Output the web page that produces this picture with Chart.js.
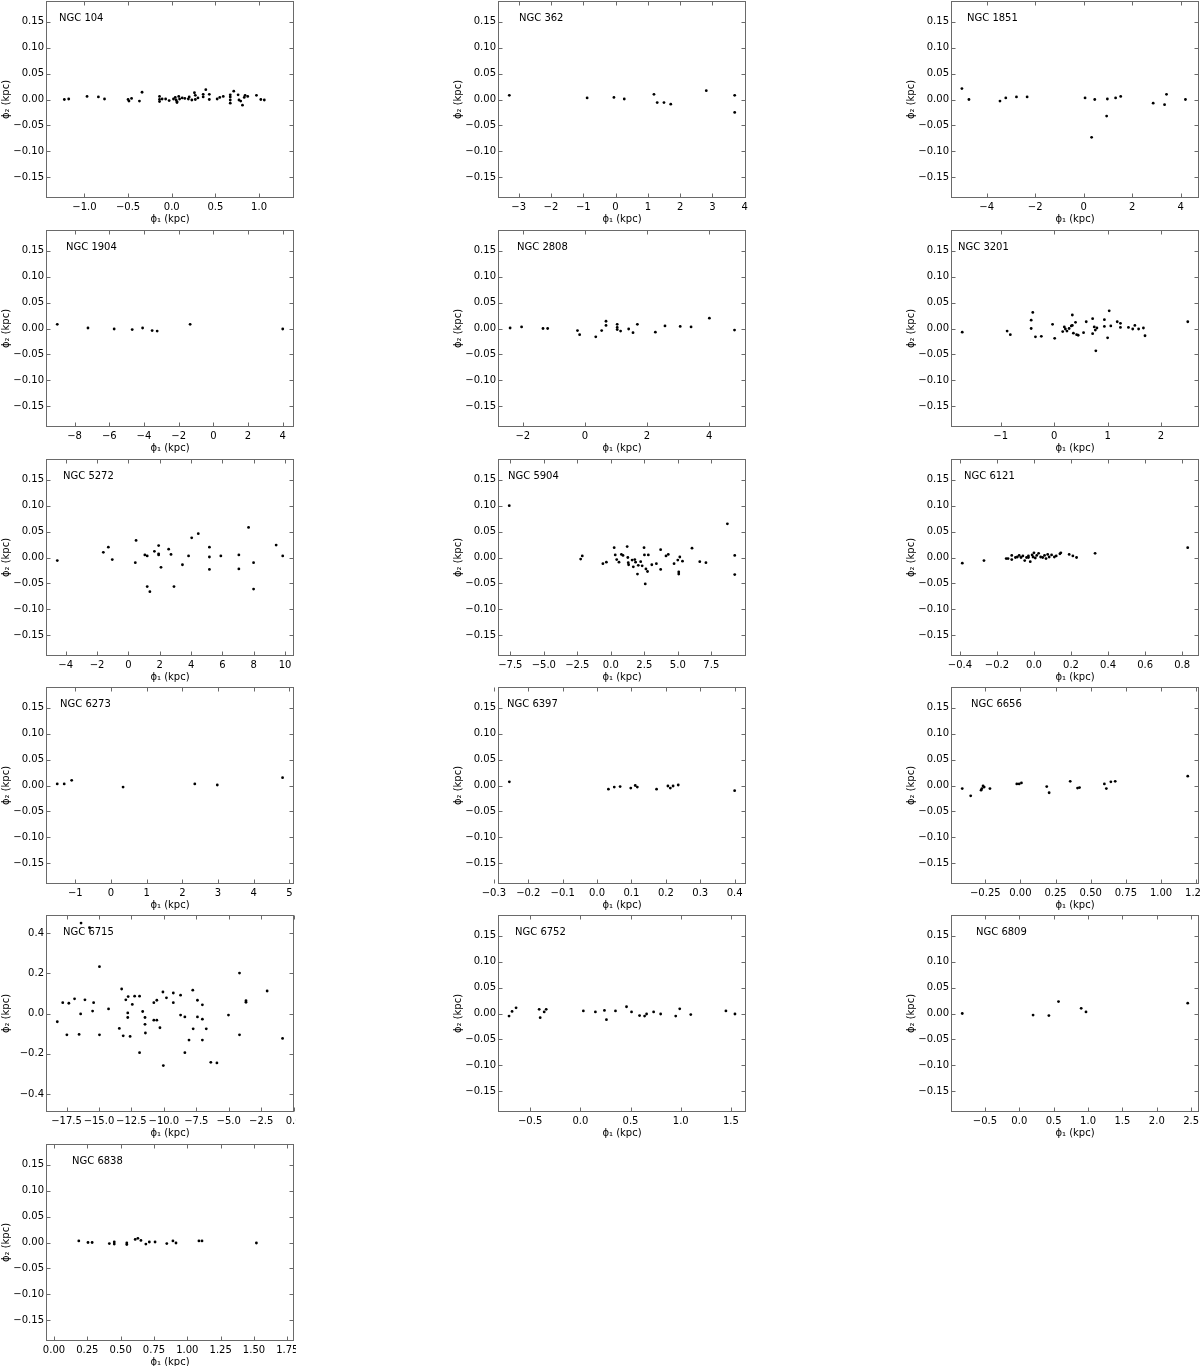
<!DOCTYPE html>
<html>
<head>
<meta charset="utf-8">
<script src="https://cdn.jsdelivr.net/npm/chart.js@4.4.0/dist/chart.umd.min.js"></script>
<style>
  html, body { margin: 0; padding: 0; background: #fff; overflow: hidden; }
  body { width: 1200px; height: 1366px; position: relative; }
</style>
</head>
<body>
<script>
// cluster names, one panel each
const clusterNames = ['NGC 104', 'NGC 362', 'NGC 1851', 'NGC 1904', 'NGC 2808', 'NGC 3201',
  'NGC 5272', 'NGC 5904', 'NGC 6121', 'NGC 6273', 'NGC 6397', 'NGC 6656',
  'NGC 6715', 'NGC 6752', 'NGC 6809', 'NGC 6838'];

// phi1 / phi2 (kpc) per cluster
const phi1_104 = [-1.23,-1.18,-0.97,-0.84,-0.77,-0.50,-0.49,-0.46,-0.37,-0.34,-0.14,-0.14,-0.14,-0.11,-0.07,-0.03,0.02,0.04,0.05,0.06,0.06,0.08,0.09,0.12,0.15,0.19,0.20,0.23,0.26,0.27,0.27,0.30,0.36,0.36,0.39,0.43,0.43,0.52,0.55,0.59,0.67,0.67,0.67,0.67,0.71,0.76,0.77,0.79,0.81,0.83,0.84,0.87,0.97,1.02,1.06];
const phi2_104 = [0.000,0.001,0.006,0.005,0.001,0.000,-0.003,0.002,-0.003,0.014,0.006,0.000,-0.004,0.001,0.001,-0.002,0.001,0.004,-0.001,-0.004,-0.006,0.006,0.001,0.003,0.002,0.001,0.005,-0.001,0.013,0.008,0.000,0.003,0.010,0.005,0.019,0.010,0.000,0.001,0.004,0.006,0.009,0.005,-0.001,-0.007,0.016,0.009,-0.001,-0.003,-0.011,0.004,0.008,0.006,0.008,0.000,-0.001];

const phi1_362 = [-3.29,-0.88,-0.05,0.27,1.19,1.29,1.50,1.71,2.81,3.69,3.69];
const phi2_362 = [0.008,0.003,0.004,0.001,0.010,-0.006,-0.006,-0.009,0.017,0.008,-0.025];

const phi1_1851 = [-5.02,-4.73,-3.45,-3.21,-2.77,-2.33,0.06,0.33,0.46,0.95,0.98,1.32,1.53,2.87,3.34,3.42,4.20];
const phi2_1851 = [0.021,0.000,-0.003,0.003,0.005,0.005,0.003,-0.073,0.000,-0.032,0.001,0.003,0.006,-0.007,-0.010,0.010,0.000];

const phi1_1904 = [-9.00,-7.23,-5.72,-4.68,-4.08,-3.53,-3.24,-1.34,4.00];
const phi2_1904 = [0.008,0.001,-0.001,-0.002,0.001,-0.004,-0.005,0.008,-0.001];

const phi1_2808 = [-2.41,-2.04,-1.35,-1.20,-0.24,-0.17,0.35,0.54,0.68,0.68,1.04,1.04,1.04,1.15,1.41,1.55,1.69,2.27,2.58,3.07,3.42,4.01,4.82];
const phi2_2808 = [0.001,0.003,0.000,0.000,-0.004,-0.012,-0.016,-0.004,0.006,0.014,0.008,0.002,-0.002,-0.005,-0.001,-0.008,0.008,-0.007,0.005,0.004,0.003,0.020,-0.003];

const phi1_3201 = [-1.72,-0.88,-0.82,-0.43,-0.43,-0.40,-0.35,-0.24,-0.03,0.01,0.16,0.19,0.21,0.24,0.28,0.32,0.34,0.34,0.36,0.40,0.42,0.45,0.55,0.60,0.72,0.72,0.75,0.77,0.78,0.80,0.94,0.94,1.00,1.03,1.06,1.18,1.24,1.24,1.39,1.47,1.51,1.58,1.67,1.70,2.50];
const phi2_3201 = [-0.007,-0.005,-0.012,0.016,0.000,0.031,-0.016,-0.015,0.008,-0.019,-0.006,0.003,-0.001,-0.005,0.000,0.005,0.026,0.006,-0.009,0.012,-0.012,-0.013,-0.008,0.013,0.019,-0.010,0.003,-0.003,-0.043,0.001,0.017,0.004,-0.018,0.034,0.005,0.013,0.010,0.002,0.002,-0.001,0.006,-0.001,0.001,-0.014,0.013];

const phi1_5272 = [-4.54,-1.60,-1.28,-1.03,0.44,0.49,1.05,1.20,1.20,1.37,1.66,1.93,1.93,1.93,2.08,2.57,2.72,2.91,3.45,3.84,4.04,4.46,5.17,5.17,5.17,5.90,7.05,7.05,7.67,7.99,7.99,9.43,9.85];
const phi2_5272 = [-0.006,0.010,0.020,-0.004,-0.010,0.033,0.005,0.003,-0.056,-0.066,0.012,0.023,0.007,0.005,-0.019,0.016,0.006,-0.056,-0.014,0.003,0.038,0.046,0.020,0.001,-0.023,0.003,0.005,-0.022,0.058,-0.010,-0.061,0.024,0.003];

const phi1_5904 = [-7.58,-2.25,-2.13,-0.59,-0.33,0.25,0.33,0.44,0.61,0.79,0.91,1.22,1.27,1.30,1.33,1.59,1.68,1.79,1.85,1.99,2.05,2.23,2.34,2.48,2.51,2.62,2.57,2.74,2.80,3.06,3.40,3.72,3.72,4.12,4.29,4.72,5.00,5.07,5.07,5.15,5.35,6.06,6.64,7.10,8.70,9.25,9.25];
const phi2_5904 = [0.100,-0.003,0.003,-0.012,-0.009,0.019,0.005,-0.004,-0.009,0.006,0.004,0.021,0.000,-0.010,-0.014,-0.005,-0.018,-0.004,-0.009,-0.032,-0.015,-0.008,-0.016,0.019,0.005,-0.022,-0.051,-0.027,0.005,-0.014,-0.012,0.015,-0.023,0.003,0.006,-0.012,-0.005,-0.028,-0.032,0.001,-0.007,0.018,-0.008,-0.010,0.065,0.004,-0.033];

const phi1_6121 = [-0.387,-0.27,-0.15,-0.14,-0.12,-0.12,-0.10,-0.09,-0.08,-0.07,-0.06,-0.05,-0.04,-0.03,-0.03,-0.02,-0.01,-0.005,0.0,0.007,0.015,0.025,0.036,0.047,0.057,0.065,0.074,0.082,0.095,0.11,0.12,0.14,0.145,0.19,0.21,0.23,0.33,0.83];
const phi2_6121 = [-0.011,-0.006,-0.002,-0.002,0.004,-0.004,0.000,0.001,0.004,0.000,0.003,-0.006,0.000,0.003,0.000,-0.008,0.005,0.001,0.009,-0.001,0.004,0.008,0.001,0.000,0.004,-0.002,0.006,0.001,0.005,0.001,0.003,0.007,0.009,0.006,0.003,0.000,0.008,0.019];

const phi1_6273 = [-1.505,-1.31,-1.10,0.34,2.35,2.98,4.81];
const phi2_6273 = [0.003,0.003,0.010,-0.003,0.003,0.001,0.015];

const phi1_6397 = [-0.255,0.033,0.050,0.067,0.098,0.111,0.117,0.173,0.206,0.213,0.221,0.236,0.400];
const phi2_6397 = [0.007,-0.007,-0.003,-0.002,-0.005,0.000,-0.003,-0.007,-0.001,-0.005,-0.001,0.001,-0.010];

const phi1_6656 = [-0.414,-0.354,-0.280,-0.274,-0.266,-0.258,-0.217,-0.026,-0.009,0.007,0.187,0.204,0.354,0.406,0.420,0.597,0.611,0.643,0.674,1.19];
const phi2_6656 = [-0.006,-0.020,-0.009,-0.006,-0.001,-0.003,-0.006,0.003,0.003,0.005,-0.002,-0.014,0.008,-0.005,-0.004,0.003,-0.006,0.007,0.008,0.018];

const phi1_6715 = [-18.21,-17.79,-17.47,-17.32,-16.88,-16.53,-16.38,-16.41,-16.08,-15.73,-15.49,-15.41,-14.96,-14.96,-14.26,-13.43,-13.25,-13.13,-12.93,-12.75,-12.78,-12.78,-12.60,-12.43,-12.25,-11.87,-11.87,-11.63,-11.45,-11.45,-11.42,-10.77,-10.77,-10.54,-10.54,-10.30,-10.07,-10.04,-9.80,-9.27,-9.27,-8.71,-8.71,-8.38,-8.38,-8.06,-7.77,-7.74,-7.41,-7.41,-7.03,-7.03,-7.03,-6.73,-6.38,-5.91,-5.02,-4.17,-4.17,-3.67,-3.67,-2.04,-0.85];
const phi2_6715 = [-0.041,0.054,-0.106,0.051,0.073,-0.104,0.450,-0.002,0.068,0.427,0.012,0.054,0.233,-0.106,0.023,-0.074,0.122,-0.111,0.068,0.084,0.003,-0.020,-0.114,0.045,0.086,0.086,-0.195,0.010,-0.020,-0.054,-0.097,0.054,-0.033,-0.033,0.066,-0.071,0.107,-0.259,0.078,0.102,0.054,0.091,-0.008,-0.017,-0.195,-0.132,0.116,-0.076,0.066,-0.017,0.043,-0.028,-0.132,-0.076,-0.243,-0.246,-0.008,-0.106,0.201,0.056,0.064,0.112,-0.124];

const phi1_6752 = [-0.71,-0.68,-0.64,-0.41,-0.40,-0.36,-0.34,0.03,0.15,0.24,0.26,0.35,0.46,0.51,0.59,0.64,0.66,0.73,0.80,0.95,0.99,1.10,1.45,1.54];
const phi2_6752 = [-0.005,0.004,0.011,0.008,-0.008,0.003,0.008,0.005,0.003,0.006,-0.012,0.005,0.013,0.003,-0.004,-0.005,-0.001,0.003,-0.001,-0.005,0.009,-0.002,0.005,-0.001];

const phi1_6809 = [-0.83,0.20,0.43,0.57,0.90,0.97,2.45];
const phi2_6809 = [0.000,-0.003,-0.004,0.023,0.010,0.003,0.020];

const phi1_6838 = [0.186,0.255,0.286,0.415,0.452,0.452,0.546,0.546,0.609,0.629,0.652,0.689,0.715,0.758,0.846,0.892,0.915,1.087,1.110,1.518];
const phi2_6838 = [0.003,0.000,0.000,-0.002,0.001,-0.003,-0.001,-0.004,0.006,0.008,0.004,-0.003,0.001,0.001,-0.002,0.003,-0.001,0.003,0.003,-0.001];

const phi1Lists = [phi1_104, phi1_362, phi1_1851, phi1_1904, phi1_2808, phi1_3201, phi1_5272, phi1_5904,
  phi1_6121, phi1_6273, phi1_6397, phi1_6656, phi1_6715, phi1_6752, phi1_6809, phi1_6838];
const phi2Lists = [phi2_104, phi2_362, phi2_1851, phi2_1904, phi2_2808, phi2_3201, phi2_5272, phi2_5904,
  phi2_6121, phi2_6273, phi2_6397, phi2_6656, phi2_6715, phi2_6752, phi2_6809, phi2_6838];

// tick labels
const phi1Ticks = [
  [-1.0, -0.5, 0.0, 0.5, 1.0],
  [-3, -2, -1, 0, 1, 2, 3, 4],
  [-4, -2, 0, 2, 4],
  [-8, -6, -4, -2, 0, 2, 4],
  [-2, 0, 2, 4],
  [-1, 0, 1, 2],
  [-4, -2, 0, 2, 4, 6, 8, 10],
  [-7.5, -5.0, -2.5, 0.0, 2.5, 5.0, 7.5],
  [-0.4, -0.2, 0.0, 0.2, 0.4, 0.6, 0.8],
  [-1, 0, 1, 2, 3, 4, 5],
  [-0.3, -0.2, -0.1, 0.0, 0.1, 0.2, 0.3, 0.4],
  [-0.25, 0.00, 0.25, 0.50, 0.75, 1.00, 1.25],
  [-17.5, -15.0, -12.5, -10.0, -7.5, -5.0, -2.5, 0.0],
  [-0.5, 0.0, 0.5, 1.0, 1.5],
  [-0.5, 0.0, 0.5, 1.0, 1.5, 2.0, 2.5],
  [0.00, 0.25, 0.50, 0.75, 1.00, 1.25, 1.50, 1.75]
];
const phi1Decimals = [1, 0, 0, 0, 0, 0, 0, 1, 1, 0, 1, 2, 1, 1, 1, 2];
const phi2Ticks = [-0.15, -0.10, -0.05, 0.00, 0.05, 0.10, 0.15];
const phi2TicksWide = [-0.4, -0.2, 0.0, 0.2, 0.4];

// axis ranges
const phi1Range = [
  [-1.44, 1.40], [-3.64, 4.04], [-5.47, 4.76], [-9.65, 4.65],
  [-2.80, 5.19], [-1.93, 2.71], [-5.26, 10.57], [-8.42, 10.09],
  [-0.448, 0.891], [-1.82, 5.13], [-0.288, 0.433], [-0.494, 1.27],
  [-19.08, 0.03], [-0.82, 1.65], [-0.994, 2.614], [-0.06, 1.80]
];
const phi2Range = [-0.19, 0.19];
const phi2RangeWide = [-0.49, 0.49];

// layout (px)
const colLeft = [46, 498, 951];
const rowTop = [1, 230, 459, 687, 915, 1144];
const boxW = 248, boxH = 197;
const padTop = 4, padRight = 2, yAxisW = 46, xAxisH = 27;
const labelDx = [13, 21, 16, 20, 19, 7, 17, 10, 13, 14, 9, 20, 17, 17, 25, 26];

Chart.defaults.font.family = '"DejaVu Sans", sans-serif';
Chart.defaults.font.size = 10;
Chart.defaults.color = '#000';

function fmt(v, d) {
  return v.toFixed(d).replace('-', '\u2212');
}

const framePlugin = {
  id: 'frame',
  afterDraw(chart, args, opts) {
    const {ctx, chartArea: a, scales: {x, y}} = chart;
    const L = Math.round(a.left) + 0.5, R = Math.round(a.right) - 0.5;
    const T = Math.round(a.top) + 0.5, B = Math.round(a.bottom) - 0.5;
    ctx.save();
    ctx.strokeStyle = '#6a6a6a';
    ctx.lineWidth = 1;
    ctx.strokeRect(L, T, R - L, B - T);
    ctx.beginPath();
    x.ticks.forEach(t => {
      const px = Math.round(x.getPixelForValue(t.value)) + 0.5;
      ctx.moveTo(px, B); ctx.lineTo(px, B - 4);
      ctx.moveTo(px, T); ctx.lineTo(px, T + 4);
    });
    y.ticks.forEach(t => {
      const py = Math.round(y.getPixelForValue(t.value)) + 0.5;
      ctx.moveTo(L, py); ctx.lineTo(L + 4, py);
      ctx.moveTo(R, py); ctx.lineTo(R - 4, py);
    });
    ctx.stroke();
    ctx.fillStyle = '#000';
    ctx.font = '10px "DejaVu Sans"';
    ctx.textBaseline = 'middle';
    ctx.fillText(opts.name, a.left + opts.dx, a.top + 17);
    ctx.restore();
  }
};

clusterNames.forEach((name, i) => {
  const col = i % 3, row = Math.floor(i / 3);
  const wide = name === 'NGC 6715';
  const yTicks = wide ? phi2TicksWide : phi2Ticks;
  const yRange = wide ? phi2RangeWide : phi2Range;
  const yDec = wide ? 1 : 2;
  const xTicks = phi1Ticks[i];
  const xDec = phi1Decimals[i];

  const w = yAxisW + boxW + padRight, h = padTop + boxH + xAxisH;
  const canvas = document.createElement('canvas');
  canvas.width = w;
  canvas.height = h;
  canvas.style.cssText = `position:absolute;left:${colLeft[col] - yAxisW}px;top:${rowTop[row] - padTop}px;width:${w}px;height:${h}px`;
  document.body.appendChild(canvas);

  const points = phi1Lists[i].map((v, k) => ({x: v, y: phi2Lists[i][k]}));

  new Chart(canvas, {
    type: 'scatter',
    data: {
      datasets: [{
        data: points,
        backgroundColor: '#000',
        borderWidth: 0,
        pointRadius: 1.4,
        pointStyle: 'circle'
      }]
    },
    options: {
      responsive: false,
      animation: false,
      events: [],
      layout: {autoPadding: false, padding: {top: padTop, right: padRight, bottom: 0, left: 0}},
      plugins: {
        legend: {display: false},
        tooltip: {enabled: false},
        frame: {name: name, dx: labelDx[i]}
      },
      scales: {
        x: {
          type: 'linear',
          min: phi1Range[i][0],
          max: phi1Range[i][1],
          afterBuildTicks: s => { s.ticks = xTicks.map(v => ({value: v})); },
          afterFit: s => { s.height = xAxisH; s.paddingLeft = 0; s.paddingRight = 0; },
          grid: {display: false, drawTicks: false},
          border: {display: false},
          ticks: {autoSkip: false, maxRotation: 0, padding: 3, callback: v => fmt(v, xDec)},
          title: {display: true, text: '\u03d5\u2081 (kpc)', padding: 0}
        },
        y: {
          type: 'linear',
          min: yRange[0],
          max: yRange[1],
          afterBuildTicks: s => { s.ticks = yTicks.map(v => ({value: v})); },
          afterFit: s => { s.width = yAxisW; s.paddingTop = 0; s.paddingBottom = 0; },
          grid: {display: false, drawTicks: false},
          border: {display: false},
          ticks: {autoSkip: false, padding: 2, callback: v => fmt(v, yDec)},
          title: {display: true, text: '\u03d5\u2082 (kpc)', padding: 0}
        }
      }
    },
    plugins: [framePlugin]
  });
});
</script>
</body>
</html>
